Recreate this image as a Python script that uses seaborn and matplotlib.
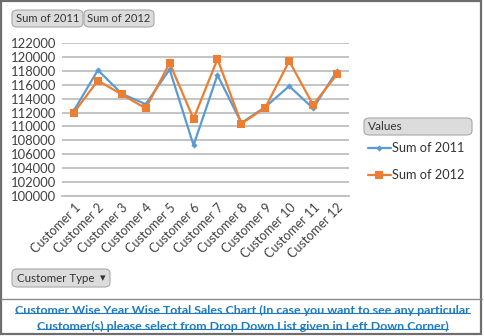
import matplotlib
matplotlib.use("Agg")
import matplotlib.pyplot as plt
import seaborn as sns
import pandas as pd
from matplotlib.patches import FancyBboxPatch, Rectangle
from matplotlib.lines import Line2D

customers = [f"Customer {i}" for i in range(1, 13)]
sales_2011 = [112300, 118100, 114700, 113200, 118200, 107300, 117400, 110500, 112800, 115800, 112600, 118000]
sales_2012 = [112000, 116600, 114600, 112600, 119100, 111100, 119700, 110400, 112700, 119400, 113100, 117500]
series_names = ["Sum of 2011", "Sum of 2012"]
y_ticks = list(range(100000, 122001, 2000))
caption_lines = [
    "Customer Wise Year Wise Total Sales Chart (In case you want to see any particular",
    "Customer(s) please select from Drop Down List given in Left Down Corner)",
]

df = pd.DataFrame({
    "Customer": customers * 2,
    "Sales": sales_2011 + sales_2012,
    "Series": [series_names[0]] * 12 + [series_names[1]] * 12,
})
df["pos"] = list(range(12)) * 2

sns.set_theme(style="white")
plt.rcParams["font.family"] = ["Lato", "DejaVu Sans"]

W, H = 485, 336
fig = plt.figure(figsize=(W / 100, H / 100), dpi=100)

def fx(x): return x / W
def fy(y): return 1 - y / H

ax = fig.add_axes([fx(62), fy(196), fx(349) - fx(62), fy(43) - fy(196)])

blue = "#5B9BD5"
orange = "#ED7D31"
sns.lineplot(data=df, x="pos", y="Sales", hue="Series", style="Series",
             palette=[blue, orange], markers=["D", "s"], dashes=False,
             linewidth=1.6, ax=ax, legend=False, sort=False)
for line, ms in zip(ax.lines, [3.2, 5.5]):
    line.set_markersize(ms)
    line.set_markeredgewidth(0)

ax.set_xlim(-0.5, 11.5)
ax.set_ylim(100000, 122000)
ax.set_yticks(y_ticks)
ax.set_yticklabels([str(v) for v in y_ticks], fontsize=9.4, color="#404040")
ax.set_xticks(range(12))
ax.set_xticklabels(customers, rotation=45, ha="right", rotation_mode="anchor",
                   fontsize=9.0, color="#404040")
ax.tick_params(axis="x", length=0, pad=4)
ax.tick_params(axis="y", length=0, pad=4)
ax.set_xticks([i - 0.5 for i in range(13)], minor=True)
ax.tick_params(axis="x", which="minor", length=4, color="#BFBFBF", width=1)
ax.grid(axis="y", color="#BFBFBF", linewidth=1.3)
ax.set_axisbelow(True)
ax.set_xlabel("")
ax.set_ylabel("")
for s in ["top", "right", "left"]:
    ax.spines[s].set_visible(False)
ax.spines["bottom"].set_color("#BFBFBF")
ax.spines["bottom"].set_linewidth(1.3)

# outer borders
fig.add_artist(Rectangle((fx(1), fy(334)), fx(481) - fx(1), fy(1) - fy(334),
                         transform=fig.transFigure, fill=False, edgecolor="#6E6E6E", linewidth=1.6))
fig.add_artist(Line2D([fx(1), fx(482)], [fy(299), fy(299)], transform=fig.transFigure,
                      color="#8C8C8C", linewidth=1.0))

def button(x0, y0, x1, y1, text, ha="center", tx=None, size=8.0):
    p = FancyBboxPatch((fx(x0), fy(y1)), fx(x1) - fx(x0), fy(y0) - fy(y1),
                       boxstyle="round,pad=0,rounding_size=0.012", transform=fig.transFigure,
                       facecolor="#DCDCDC", edgecolor="#A8A8A8", linewidth=0.8)
    fig.add_artist(p)
    fig.text(fx(tx if tx is not None else (x0 + x1) / 2), fy((y0 + y1) / 2), text,
             ha=ha, va="center", fontsize=size, color="#333333")

button(12, 10, 83, 27, series_names[0])
button(84, 10, 154, 27, series_names[1])
button(12, 269, 110, 287, "Customer Type", ha="left", tx=17, size=8.3)
fig.text(fx(103), fy(277.5), "\u25BE", ha="center", va="center", fontsize=8, color="#333333")
button(364, 118, 472, 135, "Values", ha="left", tx=368, size=8.5)

# legend
for i, (name, col, mk, ms) in enumerate(zip(series_names, [blue, orange], ["D", "s"], [3.2, 5.5])):
    yy = fy(148 + i * 27)
    fig.add_artist(Line2D([fx(368), fx(391)], [yy, yy], transform=fig.transFigure,
                          color=col, linewidth=1.6))
    fig.add_artist(Line2D([fx(379.5)], [yy], transform=fig.transFigure, color=col,
                          marker=mk, markersize=ms, markeredgewidth=0))
    fig.text(fx(392), yy, name, ha="left", va="center", fontsize=9.2, color="#333333")

# caption with underline
cap_color = "#1F7BC1"
texts = []
for i, line in enumerate(caption_lines):
    t = fig.text(0.5, fy(310 + i * 16), line, ha="center", va="center", fontsize=8.9,
                 fontweight="bold", color=cap_color)
    texts.append(t)

fig.canvas.draw()
r = fig.canvas.get_renderer()
for t in texts:
    bb = t.get_window_extent(renderer=r)
    yline = (bb.y0 + 2.5) / H
    fig.add_artist(Line2D([bb.x0 / W, bb.x1 / W], [yline, yline], transform=fig.transFigure,
                          color=cap_color, linewidth=0.8))

fig.savefig("out.png", dpi=100)
